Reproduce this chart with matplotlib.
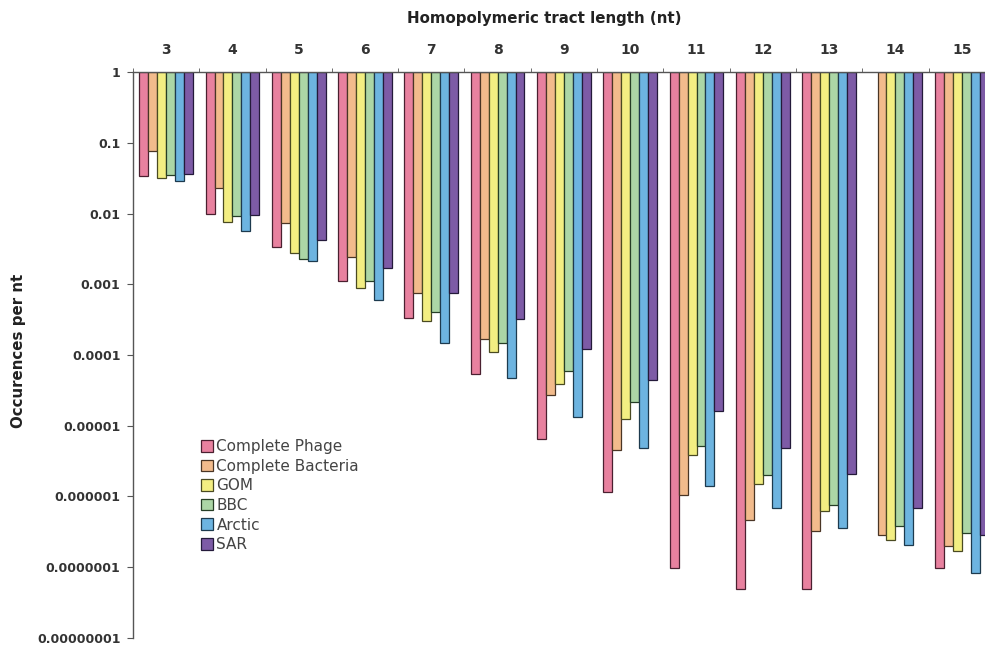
import numpy as np
import matplotlib
matplotlib.use("Agg")
import matplotlib.pyplot as plt
from matplotlib.patches import Patch

# tract lengths (nt) and occurrences per nt for each dataset
lengths = [3, 4, 5, 6, 7, 8, 9, 10, 11, 12, 13, 14, 15]
phage = [0.034, 0.010, 0.0034, 0.0011, 0.00033, 5.4e-5, 6.6e-6, 1.14e-6, 9.8e-8, 4.9e-8, 4.9e-8, np.nan, 9.8e-8]
bacteria = [0.077, 0.023, 0.0074, 0.0024, 0.00075, 1.67e-4, 2.75e-5, 4.6e-6, 1.05e-6, 4.7e-7, 3.3e-7, 2.9e-7, 2.0e-7]
gom = [0.032, 0.0077, 0.0028, 0.00089, 0.00030, 1.09e-4, 3.9e-5, 1.24e-5, 3.9e-6, 1.48e-6, 6.3e-7, 2.45e-7, 1.7e-7]
bbc = [0.035, 0.0093, 0.0023, 0.0011, 0.00041, 1.5e-4, 5.9e-5, 2.2e-5, 5.2e-6, 2.0e-6, 7.6e-7, 3.8e-7, 3.0e-7]
arctic = [0.029, 0.0057, 0.0021, 0.00059, 0.00015, 4.7e-5, 1.31e-5, 4.8e-6, 1.4e-6, 6.9e-7, 3.6e-7, 2.06e-7, 8.3e-8]
sar = [0.036, 0.0095, 0.0042, 0.0017, 0.00075, 3.2e-4, 1.23e-4, 4.5e-5, 1.6e-5, 4.8e-6, 2.1e-6, 6.9e-7, 2.9e-7]

series = [phage, bacteria, gom, bbc, arctic, sar]
names = ["Complete Phage", "Complete Bacteria", "GOM", "BBC", "Arctic", "SAR"]
colors = ["#e8819f", "#f2bb8c", "#f3ee82", "#acd6a6", "#6db4e0", "#7d5ba6"]
edges = ["#4a2030", "#4a3525", "#4a4a22", "#263e26", "#1d3a4e", "#241a3a"]

fig = plt.figure(figsize=(9.85, 6.49), dpi=100)
ax = fig.add_axes([0.135, 0.017, 0.875, 0.872])

x = np.arange(len(lengths))
w = 0.135
for i, vals in enumerate(series):
    vals = np.array(vals, dtype=float)
    ax.bar(x + (i - 2.5) * w, vals - 1, bottom=1, width=w,
           color=colors[i], edgecolor=edges[i], linewidth=0.9)

ax.set_yscale("log")
ax.set_ylim(1e-8, 1)
ax.set_xlim(-0.5, len(lengths) - 0.5)

# y ticks written out as decimals
yt = [10.0 ** -k for k in range(9)]
ax.set_yticks(yt)
ax.set_yticklabels(["1", "0.1", "0.01", "0.001", "0.0001", "0.00001",
                    "0.000001", "0.0000001", "0.00000001"])
ax.yaxis.set_minor_locator(matplotlib.ticker.NullLocator())
ax.tick_params(axis="y", length=4, color="#555555", labelsize=9,
               labelcolor="#333333", pad=5)
for t in ax.get_yticklabels():
    t.set_fontweight("bold")

# category axis along the top
ax.xaxis.tick_top()
ax.set_xticks(x)
ax.set_xticklabels([str(v) for v in lengths])
ax.set_xticks(np.arange(len(lengths) + 1) - 0.5, minor=True)
ax.tick_params(axis="x", which="major", length=0, pad=11, labelsize=10,
               labelcolor="#333333")
ax.tick_params(axis="x", which="minor", length=3, color="#555555")
for t in ax.get_xticklabels():
    t.set_fontweight("bold")

for s in ["right", "bottom"]:
    ax.spines[s].set_visible(False)
ax.spines["left"].set_color("#555555")
ax.spines["top"].set_color("#555555")
ax.spines["left"].set_linewidth(1.0)
ax.spines["top"].set_linewidth(1.0)

fig.text(0.553, 0.972, "Homopolymeric tract length (nt)", ha="center", va="center",
         fontsize=10.8, fontweight="bold", color="#222222")
fig.text(0.019, 0.459, "Occurences per nt", rotation=90, ha="center", va="center",
         fontsize=10.8, fontweight="bold", color="#222222")

handles = [Patch(facecolor=c, edgecolor=e, linewidth=0.9) for c, e in zip(colors, edges)]
leg = ax.legend(handles, names, loc="upper left", bbox_to_anchor=(0.072, 0.362),
                frameon=False, fontsize=11, handlelength=0.8, handleheight=0.8,
                handletextpad=0.2, labelspacing=0.3, borderaxespad=0)
for t in leg.get_texts():
    t.set_color("#444444")

fig.savefig("out.png", dpi=100, facecolor="white")
